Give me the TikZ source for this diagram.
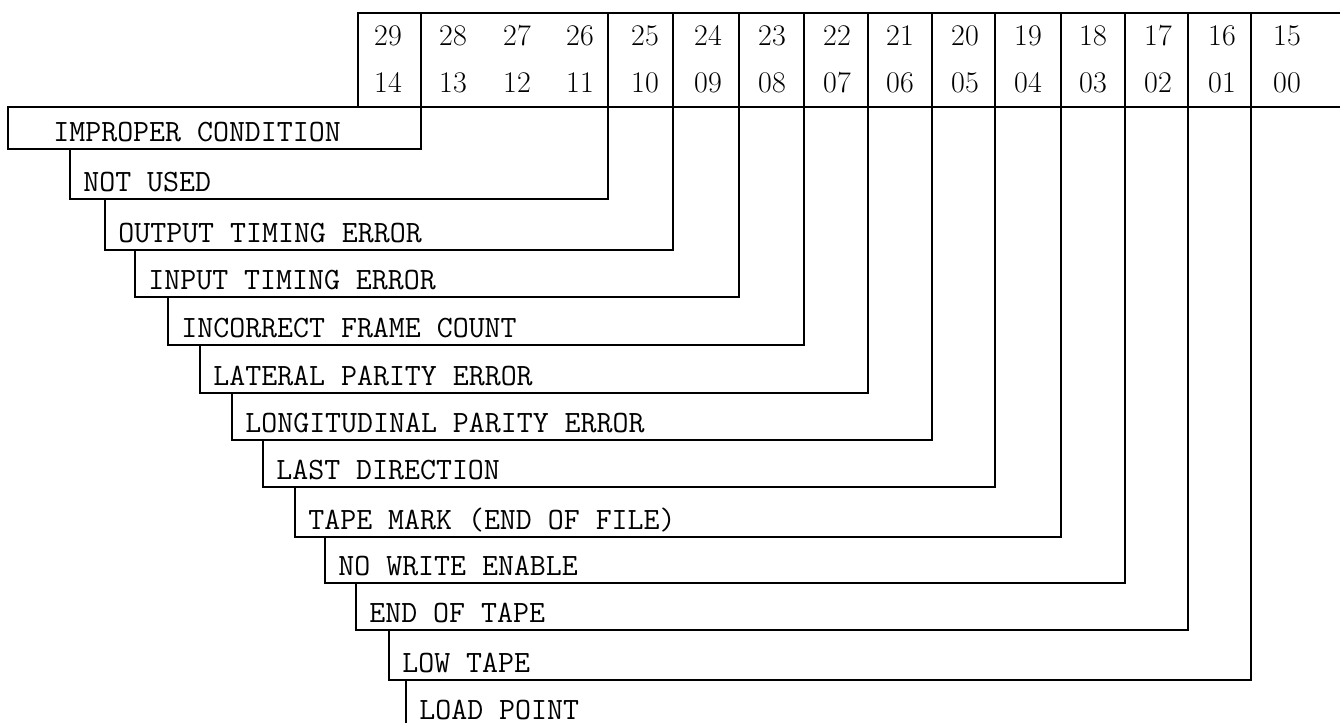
\documentclass[tikz,border=0pt]{standalone}
\usepackage{fontspec}
\tikzset{
  lbl/.style={font=\fontsize{15.5}{15.5}\selectfont\ttfamily\addfontfeature{FakeBold=0.5}, anchor=base west, inner sep=0pt},
  num/.style={font=\fontsize{15}{15}\selectfont\addfontfeature{FakeBold=0.5}, anchor=base, inner sep=0pt},
  ln/.style={line width=1.2pt, line join=miter, line cap=rect}
}
\begin{document}
\begin{tikzpicture}[x=0.5pt,y=-0.5pt]
\useasboundingbox (0,0) rectangle (1340,723);
% header frame
\coordinate (hTL) at (358,13);
\coordinate (hTR) at (1341,13);
\coordinate (hBL) at (358,107);
\coordinate (hBR) at (1341,107);
\coordinate (bL) at (8,107);
\draw[ln] (hBL) -- (hTL) -- (hTR);
\draw[ln] (bL) -- (hBR);
\foreach \x in {421,608,673,739,804,868,932,995,1061,1125,1188,1251}
  \draw[ln] (\x,13) -- (\x,107);
% bit numbers
\foreach \x/\a/\b [count=\i] in {388/29/14, 453/28/13, 517/27/12, 580/26/11, 645/25/10, 708/24/09, 772/23/08, 837/22/07, 900/21/06, 965/20/05, 1028/19/04, 1093/18/03, 1158/17/02, 1222/16/01, 1287/15/00} {
  \node[num] (t\i) at (\x,45) {\a};
  \node[num] (u\i) at (\x,92) {\b};
}
% first box
\coordinate (c0a) at (8,107);
\coordinate (c0b) at (421,149);
\draw[ln] (c0a) rectangle (c0b);
\node[lbl] (l0) at (53,141) {IMPROPER CONDITION};
% brackets
\foreach \lx/\py/\by/\rx/\t [count=\i] in {
  70/149/199/608/{NOT USED},
  105/199/250/673/{OUTPUT TIMING ERROR},
  135/250/297/739/{INPUT TIMING ERROR},
  168/297/345/804/{INCORRECT FRAME COUNT},
  200/345/393/868/{LATERAL PARITY ERROR},
  232/393/440/932/{LONGITUDINAL PARITY ERROR},
  263/440/487/995/{LAST DIRECTION},
  295/487/537/1061/{TAPE MARK (END OF FILE)},
  325/537/583/1125/{NO WRITE ENABLE},
  356/583/630/1188/{END OF TAPE},
  389/630/680/1251/{LOW TAPE}} {
  \coordinate (s\i) at (\lx,\py);
  \coordinate (e\i) at (\rx,\by);
  \coordinate (h\i) at (\rx,107);
  \draw[ln] (s\i) |- (e\i) -- (h\i);
  \node[lbl] (l\i) at (\lx+13,\by-8) {\t};
}
% last entry
\coordinate (s12) at (406,680);
\coordinate (e12) at (406,724);
\draw[ln] (s12) -- (e12);
\node[lbl] (l12) at (419,719) {LOAD POINT};
\end{tikzpicture}
\end{document}
